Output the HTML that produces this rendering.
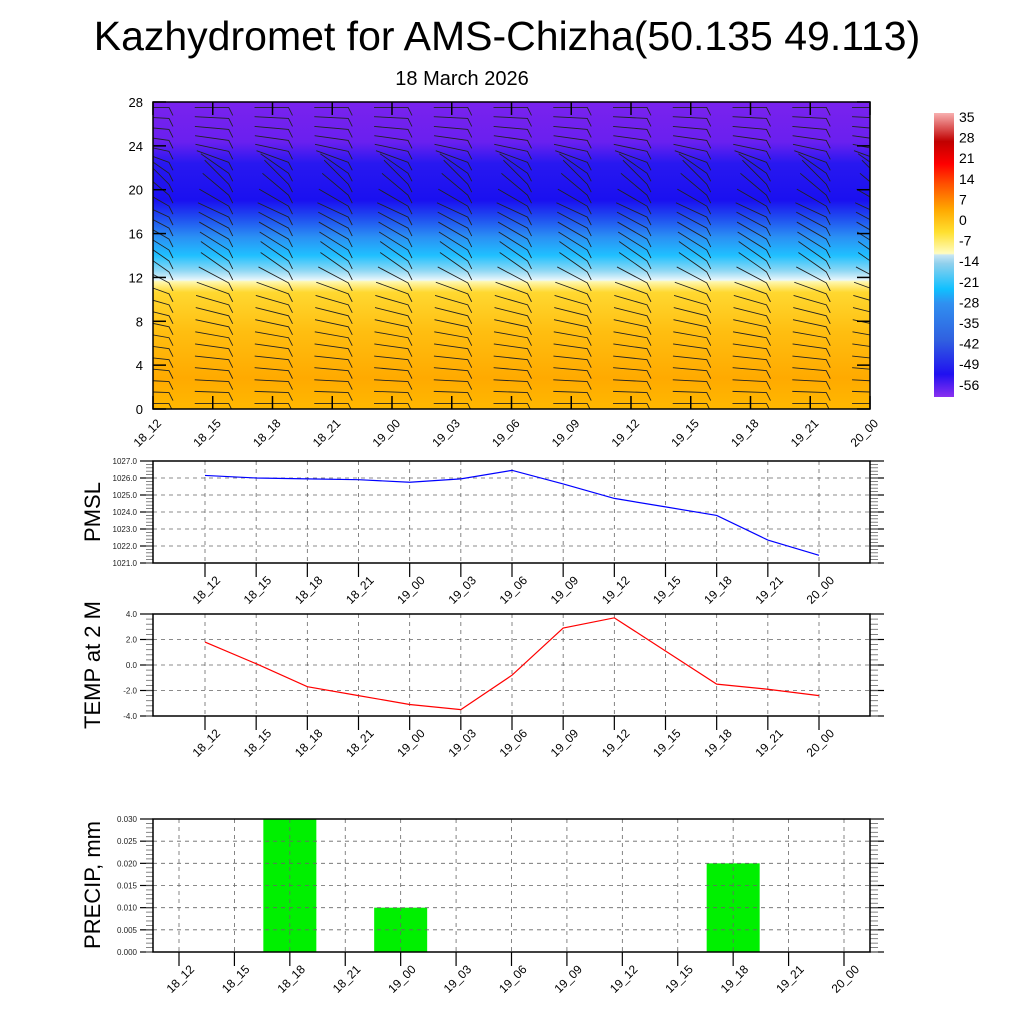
<!DOCTYPE html>
<html><head><meta charset="utf-8"><style>
body{margin:0;background:#fff;}
svg{display:block;font-family:"Liberation Sans",sans-serif;}
</style></head><body>
<svg id="s" width="1024" height="1024" xmlns="http://www.w3.org/2000/svg">
<defs>
<linearGradient id="bg" x1="0" y1="1" x2="0" y2="0">
<stop offset="0" stop-color="#ffb800"/>
<stop offset="0.1" stop-color="#ffaa00"/>
<stop offset="0.25" stop-color="#ffbe10"/>
<stop offset="0.38" stop-color="#ffd830"/>
<stop offset="0.415" stop-color="#fff8b0"/>
<stop offset="0.42" stop-color="#e8f6fb"/>
<stop offset="0.45" stop-color="#90d8f4"/>
<stop offset="0.5" stop-color="#20c0ff"/>
<stop offset="0.56" stop-color="#2a90f4"/>
<stop offset="0.62" stop-color="#2050f0"/>
<stop offset="0.68" stop-color="#1a10f0"/>
<stop offset="0.8" stop-color="#2818f0"/>
<stop offset="0.87" stop-color="#6a20ef"/>
<stop offset="1" stop-color="#7a22ee"/>
</linearGradient>
<linearGradient id="cb" x1="0" y1="1" x2="0" y2="0">
<stop offset="0" stop-color="#8a30f0"/>
<stop offset="0.08" stop-color="#2010f0"/>
<stop offset="0.2" stop-color="#3060e0"/>
<stop offset="0.33" stop-color="#3090f0"/>
<stop offset="0.38" stop-color="#10c0ff"/>
<stop offset="0.47" stop-color="#90d0ec"/>
<stop offset="0.5" stop-color="#c8e6f4"/>
<stop offset="0.505" stop-color="#fffcc0"/>
<stop offset="0.58" stop-color="#ffe030"/>
<stop offset="0.66" stop-color="#ffa800"/>
<stop offset="0.75" stop-color="#ff5000"/>
<stop offset="0.82" stop-color="#ff0000"/>
<stop offset="0.9" stop-color="#c00000"/>
<stop offset="1" stop-color="#f8b0b0"/>
</linearGradient>
<clipPath id="plotclip"><rect x="153" y="102" width="717" height="307"/></clipPath>
</defs>
<text x="507" y="50" font-size="41" text-anchor="middle">Kazhydromet for AMS-Chizha(50.135 49.113)</text>
<text x="462" y="85" font-size="20" text-anchor="middle">18 March 2026</text>
<rect x="153" y="102" width="717" height="307" fill="url(#bg)"/>
<g id="barbs" clip-path="url(#plotclip)"></g>
<rect x="153" y="102" width="717" height="307" fill="none" stroke="#000" stroke-width="1.5"/>
<g id="top-axes"></g>
<rect x="934" y="113" width="20" height="284" fill="url(#cb)"/>
<g id="cbl"></g>
<g id="p1"></g>
<g id="p2"></g>
<g id="p3"></g>
</svg>
<script>
const times=["18_12","18_15","18_18","18_21","19_00","19_03","19_06","19_09","19_12","19_15","19_18","19_21","20_00"];
const pmsl=[1026.15,1026.0,1025.95,1025.9,1025.75,1025.95,1026.45,1025.65,1024.8,1024.3,1023.8,1022.35,1021.45];
const temp=[1.8,0.1,-1.7,-2.4,-3.1,-3.5,-0.8,2.9,3.7,1.1,-1.5,-1.9,-2.4];
const precip=[0,0,0.03,0,0.01,0,0,0,0,0,0.02,0,0];
const heightTicks=[0,4,8,12,16,20,24,28];
const cbLabels=["35","28","21","14","7","0","-7","-14","-21","-28","-35","-42","-49","-56"];
const barbLevels=[0.5,1.5,2.5,3.5,4.5,5.5,6.5,7.5,8.5,9.5,10.5,11.5,12.5,13.5,14.5,15.5,16.5,17.5,18.5,19.5,20.5,21.5,22.5,23.5,24.5,25.5,26.5,27.5];
const barbTilt=[0,2,3,5,6,8,10,12,14,16,20,28,35,35,32,30,28,25,30,40,45,35,20,12,8,5,3,0];
const NS="http://www.w3.org/2000/svg";
function el(p,t,a,txt){const e=document.createElementNS(NS,t);for(const k in a)e.setAttribute(k,a[k]);if(txt!==undefined)e.textContent=txt;p.appendChild(e);return e;}
const tx=i=>153+i*717/12, ty=v=>409-v*307/28;
const ta=document.getElementById('top-axes');
heightTicks.forEach(v=>{const t=el(ta,'text',{x:143,y:ty(v)+5,'font-size':13,'text-anchor':'end'},v);


el(ta,'line',{x1:153,x2:166,y1:ty(v),y2:ty(v),stroke:'#000','stroke-width':1.5});
el(ta,'line',{x1:857,x2:870,y1:ty(v),y2:ty(v),stroke:'#000','stroke-width':1.5});});
times.forEach((s,i)=>{const x=tx(i);
el(ta,'line',{x1:x,x2:x,y1:409,y2:396,stroke:'#000','stroke-width':1.5});
el(ta,'line',{x1:x,x2:x,y1:102,y2:115,stroke:'#000','stroke-width':1.5});
const t=el(ta,'text',{x:x+9,y:424,'font-size':12,'text-anchor':'end',transform:`rotate(-45 ${x+9} 424)`},s);

});
const bg=document.getElementById('barbs');
times.forEach((s,i)=>{barbLevels.forEach((lv,j)=>{
const xe=tx(i)+16, ye=ty(lv), a=barbTilt[j]*Math.PI/180, L=34;
const xs=xe-L*Math.cos(a), ys=ye-L*Math.sin(a);
const b=el(bg,'path',{d:`M${xs} ${ys}L${xe} ${ye}L${xe+4} ${ye+8}`,stroke:'#222','stroke-width':0.9,fill:'none'});


});});
const cbl=document.getElementById('cbl');
cbLabels.forEach((s,i)=>{const t=el(cbl,'text',{x:959,y:122+i*20.6,'font-size':14},s);

});
function panel(g,top,bot,xs,x0,step,ymin,ymax,yticks,fmt,title,titleY,minorN){
const X=i=>x0+i*step, Y=v=>bot-(v-ymin)/(ymax-ymin)*(bot-top);
yticks.forEach(v=>{el(g,'line',{x1:153,x2:870,y1:Y(v),y2:Y(v),stroke:'#666','stroke-dasharray':'4 4','stroke-width':0.8});
el(g,'line',{x1:140,x2:153,y1:Y(v),y2:Y(v),stroke:'#000','stroke-width':1.2});
el(g,'line',{x1:870,x2:884,y1:Y(v),y2:Y(v),stroke:'#000','stroke-width':1.2});
const t=el(g,'text',{x:137,y:Y(v)+3,'font-size':8,'text-anchor':'end',fill:'#222'},fmt(v));

});
for(let k=0;k<(yticks.length-1)*minorN;k++){const v=ymin+k*(ymax-ymin)/((yticks.length-1)*minorN);
el(g,'line',{x1:146,x2:153,y1:Y(v),y2:Y(v),stroke:'#666','stroke-width':0.8});
el(g,'line',{x1:870,x2:878,y1:Y(v),y2:Y(v),stroke:'#666','stroke-width':0.8});}
xs.forEach((s,i)=>{const x=X(i);
el(g,'line',{x1:x,x2:x,y1:top,y2:bot,stroke:'#666','stroke-dasharray':'4 4','stroke-width':0.8});
el(g,'line',{x1:x,x2:x,y1:bot,y2:bot+14,stroke:'#000','stroke-width':1.2});
const t=el(g,'text',{x:x+16,y:bot+18,'font-size':12,'text-anchor':'end',transform:`rotate(-45 ${x+16} ${bot+18})`},s);

});
el(g,'rect',{x:153,y:top,width:717,height:bot-top,fill:'none',stroke:'#000','stroke-width':1.5});
const tt=el(g,'text',{x:100,y:titleY,'font-size':22,'text-anchor':'middle',transform:`rotate(-90 100 ${titleY})`},title);


return {X,Y};}
const g1=document.getElementById('p1');
const a1=panel(g1,461,563,times,205,614/12,1021,1027,[1021,1022,1023,1024,1025,1026,1027],v=>v.toFixed(1),'PMSL',512,5);
const l1=el(g1,'polyline',{points:pmsl.map((v,i)=>a1.X(i)+','+a1.Y(v)).join(' '),fill:'none',stroke:'#0000ff','stroke-width':1.2});


const g2=document.getElementById('p2');
const a2=panel(g2,614,716,times,205,614/12,-4,4,[-4,-2,0,2,4],v=>v.toFixed(1),'TEMP at 2 M',665,5);
const l2=el(g2,'polyline',{points:temp.map((v,i)=>a2.X(i)+','+a2.Y(v)).join(' '),fill:'none',stroke:'#ff0000','stroke-width':1.2});


const g3=document.getElementById('p3');
const bars=el(g3,'g',{});


const a3=panel(g3,819,952,times,179,665/12,0,0.03,[0,0.005,0.01,0.015,0.02,0.025,0.03],v=>v.toFixed(3),'PRECIP, mm',885,5);
precip.forEach((v,i)=>{if(v<=0)return;const r=el(bars,'rect',{x:a3.X(i)-26.5,y:a3.Y(v),width:53,height:a3.Y(0)-a3.Y(v),fill:'#00f000'});

});
g3.insertBefore(bars,g3.firstChild);
</script>
</body></html>
